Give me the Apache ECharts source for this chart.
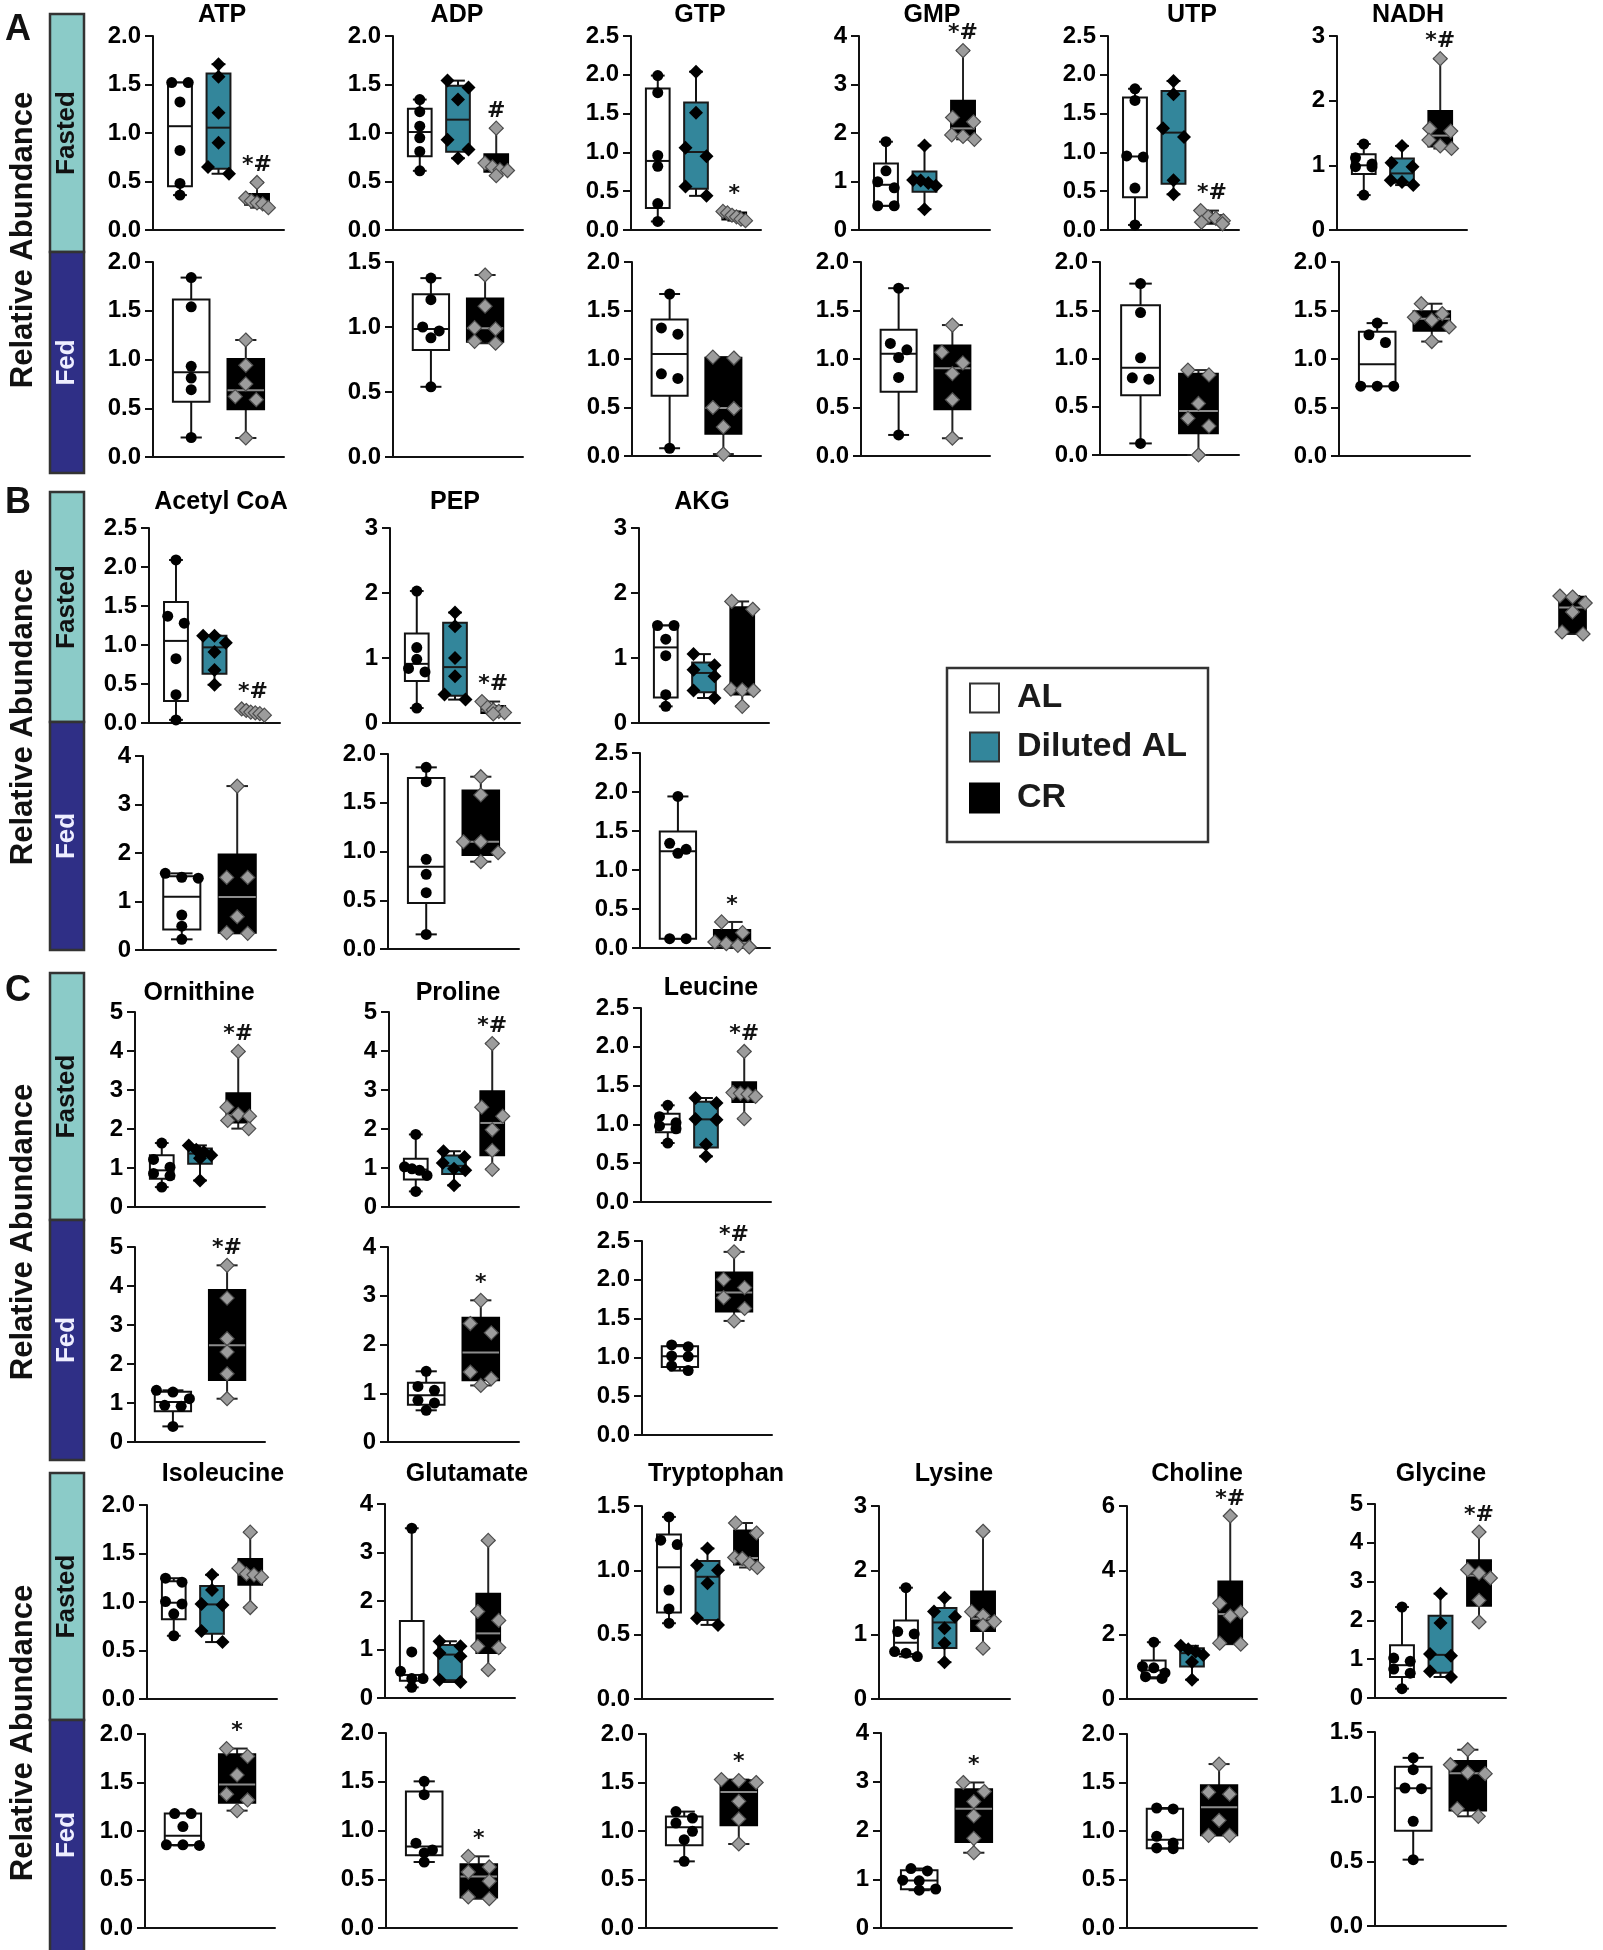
<!DOCTYPE html>
<html>
<head>
<meta charset="utf-8">
<script src="https://cdn.jsdelivr.net/npm/echarts@6/dist/echarts.min.js"></script>
<style>
  html, body { margin: 0; padding: 0; background: #fff; }
  #chart { width: 1603px; height: 1950px; }
</style>
</head>
<body>
<div id="chart"></div>
<script>
// groups
const fastedGroups = ['AL', 'Diluted AL', 'CR'];
const fedGroups = ['AL', 'CR'];

const metabolites = ['ATP', 'ADP', 'GTP', 'GMP', 'UTP', 'NADH',
  'Acetyl CoA', 'PEP', 'AKG',
  'Ornithine', 'Proline', 'Leucine',
  'Isoleucine', 'Glutamate', 'Tryptophan', 'Lysine', 'Choline', 'Glycine'];

// y axis scales (max, tick step)
const fastedMax  = [2, 2, 2.5, 4, 2.5, 3,  2.5, 3, 3,  5, 5, 2.5,  2, 4, 1.5, 3, 6, 5];
const fastedStep = [0.5, 0.5, 0.5, 1, 0.5, 1,  0.5, 1, 1,  1, 1, 0.5,  0.5, 1, 0.5, 1, 2, 1];
const fedMax     = [2, 1.5, 2, 2, 2, 2,  4, 2, 2.5,  5, 4, 2.5,  2, 2, 2, 4, 2, 1.5];
const fedStep    = [0.5, 0.5, 0.5, 0.5, 0.5, 0.5,  1, 0.5, 0.5,  1, 1, 0.5,  0.5, 0.5, 0.5, 1, 0.5, 0.5];

// significance marks on the CR group
const fastedMarks = ['*#', '#', '*', '*#', '*#', '*#',  '*#', '*#', '',  '*#', '*#', '*#',  '', '', '', '', '*#', '*#'];
const fedMarks    = ['', '', '', '', '', '',  '', '', '*',  '*#', '*', '*#',  '*', '*', '*', '*', '', ''];

// individual animals: fasted [AL, Diluted AL, CR], fed [AL, CR]
const atpFasted = [[1.52, 1.52, 1.32, 0.82, 0.48, 0.36], [1.71, 1.58, 1.21, 0.90, 0.65, 0.58], [0.49, 0.33, 0.30, 0.28, 0.27, 0.23]];
const atpFed = [[1.84, 1.54, 0.93, 0.81, 0.69, 0.20], [1.20, 0.94, 0.75, 0.62, 0.588, 0.195]];
const adpFasted = [[1.345, 1.22, 1.07, 0.95, 0.81, 0.61], [1.54, 1.47, 1.345, 0.93, 0.83, 0.74], [1.05, 0.69, 0.65, 0.62, 0.613, 0.56]];
const adpFed = [[1.376, 1.21, 1.0, 0.97, 0.917, 0.54], [1.40, 1.16, 0.995, 0.985, 0.89, 0.875]];
const gtpFasted = [[1.99, 1.77, 0.96, 0.82, 0.34, 0.11], [2.04, 1.51, 1.06, 0.95, 0.56, 0.44], [0.24, 0.22, 0.19, 0.17, 0.14, 0.12]];
const gtpFed = [[1.67, 1.32, 1.256, 0.847, 0.80, 0.08], [1.02, 1.01, 0.50, 0.49, 0.30, 0.02]];
const gmpFasted = [[1.82, 1.22, 0.995, 0.87, 0.50, 0.50], [1.74, 1.03, 1.02, 0.97, 0.91, 0.43], [3.70, 2.32, 2.23, 1.96, 1.93, 1.87]];
const gmpFed = [[1.73, 1.16, 1.095, 1.015, 0.81, 0.217], [1.35, 1.07, 0.96, 0.85, 0.58, 0.183]];
const utpFasted = [[1.82, 1.67, 0.955, 0.94, 0.54, 0.065], [1.92, 1.75, 1.31, 1.20, 0.64, 0.46], [0.25, 0.17, 0.15, 0.12, 0.10, 0.08]];
const utpFed = [[1.776, 1.476, 1.007, 0.80, 0.786, 0.12], [0.88, 0.83, 0.534, 0.38, 0.30, 0.0]];
const nadhFasted = [[1.33, 1.117, 1.02, 0.98, 0.975, 0.54], [1.30, 1.04, 0.98, 0.77, 0.742, 0.695], [2.65, 1.57, 1.53, 1.39, 1.30, 1.26]];
const nadhFed = [[1.37, 1.25, 1.17, 0.72, 0.72, 0.72], [1.57, 1.467, 1.43, 1.40, 1.33, 1.18]];
const acetylFasted = [[2.09, 1.37, 1.28, 0.825, 0.363, 0.04], [1.12, 1.12, 1.03, 0.91, 0.68, 0.49], [0.18, 0.16, 0.14, 0.13, 0.12, 0.10]];
const acetylFed = [[1.58, 1.50, 1.48, 0.72, 0.49, 0.22], [3.38, 1.496, 1.496, 0.686, 0.357, 0.343]];
const pepFasted = [[2.03, 1.16, 0.98, 0.84, 0.785, 0.23], [1.70, 1.49, 1.0, 0.72, 0.44, 0.36], [0.33, 0.24, 0.20, 0.18, 0.16, 0.14]];
const pepFed = [[1.863, 1.716, 0.92, 0.766, 0.578, 0.15], [1.767, 1.58, 1.10, 1.10, 0.988, 0.896]];
const akgFasted = [[1.50, 1.50, 1.29, 1.036, 0.436, 0.256], [1.06, 0.89, 0.82, 0.72, 0.50, 0.385], [1.87, 1.75, 0.52, 0.51, 0.50, 0.256]];
const akgFed = [[1.943, 1.342, 1.265, 1.214, 0.12, 0.12], [0.334, 0.197, 0.077, 0.056, 0.034, 0.013]];
const ornithineFasted = [[1.64, 1.22, 1.02, 0.86, 0.80, 0.51], [1.58, 1.47, 1.41, 1.33, 1.25, 0.68], [3.99, 2.56, 2.376, 2.33, 2.22, 2.01]];
const ornithineFed = [[1.325, 1.28, 1.11, 0.94, 0.915, 0.40], [4.53, 3.69, 2.65, 2.31, 1.75, 1.11]];
const prolineFasted = [[1.86, 1.03, 0.98, 0.94, 0.81, 0.40], [1.43, 1.28, 1.13, 0.98, 0.94, 0.555], [4.19, 2.56, 2.33, 1.98, 1.45, 0.966]];
const prolineFed = [[1.45, 1.14, 1.06, 0.855, 0.80, 0.65], [2.906, 2.43, 2.24, 1.436, 1.30, 1.16]];
const leucineFasted = [[1.246, 1.10, 1.02, 0.98, 0.944, 0.76], [1.34, 1.276, 1.07, 1.06, 0.74, 0.588], [1.94, 1.41, 1.40, 1.39, 1.36, 1.074]];
const leucineFed = [[1.16, 1.138, 1.018, 1.01, 0.89, 0.83], [2.36, 2.006, 1.90, 1.77, 1.63, 1.47]];
const isoleucineFasted = [[1.245, 1.204, 1.005, 0.98, 0.878, 0.652], [1.28, 1.125, 0.98, 0.97, 0.70, 0.587], [1.72, 1.35, 1.29, 1.28, 1.256, 0.943]];
const isoleucineFed = [[1.18, 1.18, 1.046, 0.858, 0.858, 0.851], [1.85, 1.77, 1.578, 1.38, 1.32, 1.21]];
const glutamateFasted = [[3.50, 0.95, 0.55, 0.40, 0.40, 0.22], [1.17, 1.065, 0.93, 0.86, 0.378, 0.33], [3.25, 1.784, 1.60, 1.065, 1.04, 0.584]];
const glutamateFed = [[1.504, 1.367, 0.87, 0.80, 0.77, 0.677], [0.735, 0.626, 0.574, 0.48, 0.318, 0.30]];
const tryptophanFasted = [[1.415, 1.234, 1.20, 0.847, 0.70, 0.589], [1.17, 1.04, 1.0, 0.90, 0.627, 0.576], [1.368, 1.29, 1.10, 1.092, 1.053, 1.022]];
const tryptophanFed = [[1.20, 1.134, 1.082, 0.997, 0.91, 0.687], [1.53, 1.52, 1.50, 1.306, 1.124, 0.866]];
const lysineFasted = [[1.73, 1.048, 1.012, 0.738, 0.712, 0.66], [1.575, 1.36, 1.28, 1.10, 0.867, 0.573], [2.607, 1.358, 1.296, 1.203, 1.147, 0.79]];
const lysineFed = [[1.22, 1.17, 0.98, 0.967, 0.80, 0.775], [2.985, 2.80, 2.593, 2.30, 1.84, 1.544]];
const cholineFasted = [[1.766, 1.01, 0.97, 0.81, 0.693, 0.64], [1.653, 1.55, 1.48, 1.37, 1.15, 0.60], [5.69, 2.975, 2.70, 2.58, 1.736, 1.705]];
const cholineFed = [[1.237, 1.227, 0.945, 0.876, 0.825, 0.818], [1.69, 1.40, 1.38, 1.11, 0.955, 0.955]];
const glycineFasted = [[2.345, 1.03, 0.945, 0.747, 0.64, 0.24], [2.69, 1.933, 1.134, 1.09, 0.687, 0.541], [4.278, 3.307, 3.22, 3.093, 2.517, 1.959]];
const glycineFed = [[1.30, 1.209, 1.067, 1.062, 0.81, 0.513], [1.363, 1.247, 1.186, 1.178, 0.907, 0.848]];
// the cut-off CR box at the right edge
const strayValues = [1.44, 1.43, 1.37, 1.28, 1.08, 1.06];

const fastedData = [atpFasted, adpFasted, gtpFasted, gmpFasted, utpFasted, nadhFasted,
  acetylFasted, pepFasted, akgFasted, ornithineFasted, prolineFasted, leucineFasted,
  isoleucineFasted, glutamateFasted, tryptophanFasted, lysineFasted, cholineFasted, glycineFasted];
const fedData = [atpFed, adpFed, gtpFed, gmpFed, utpFed, nadhFed,
  acetylFed, pepFed, akgFed, ornithineFed, prolineFed, leucineFed,
  isoleucineFed, glutamateFed, tryptophanFed, lysineFed, cholineFed, glycineFed];

// ---- layout (pixels): [axisLeft, axisRight, topTick, zero]
const fastedBox = [
  [153, 284, 36, 230], [393, 523, 36, 230], [631, 761, 36, 230], [859, 990, 36, 230], [1108, 1239, 36, 230], [1337, 1467, 36, 230],
  [149, 280, 528, 723], [390, 520, 528, 723], [639, 769, 528, 723],
  [135, 265, 1012, 1207], [389, 519, 1012, 1207], [641, 771, 1008, 1202],
  [147, 277, 1505, 1699], [385, 515, 1504, 1698], [642, 773, 1506, 1699], [879, 1010, 1506, 1699], [1127, 1257, 1506, 1699], [1375, 1506, 1504, 1698]
];
const fedBox = [
  [153, 284, 262, 457], [393, 523, 262, 457], [632, 761, 262, 456], [861, 990, 262, 456], [1100, 1239, 262, 455], [1339, 1470, 262, 456],
  [143, 276, 756, 950], [388, 519, 754, 949], [640, 770, 753, 948],
  [135, 265, 1247, 1442], [388, 519, 1247, 1442], [642, 772, 1241, 1435],
  [145, 275, 1734, 1928], [386, 517, 1733, 1928], [646, 777, 1734, 1928], [881, 1012, 1733, 1928], [1127, 1257, 1734, 1928], [1375, 1506, 1732, 1926]
];
const titlePos = [
  [222, 15], [457, 15], [700, 15], [932, 15], [1192, 15], [1408, 15],
  [221, 502], [455, 502], [702, 502],
  [199, 993], [458, 993], [711, 988],
  [223, 1474], [467, 1474], [716, 1474], [954, 1474], [1197, 1474], [1441, 1474]
];
const sections = [[14, 252, 473], [492, 722, 950], [973, 1220, 1460], [1473, 1720, 1955]];
const sectionLabelY = [240, 717, 1232, 1733];
const letters = [['A', 18, 30], ['B', 18, 503], ['C', 18, 991]];

const FONT = '"Liberation Sans", Arial, sans-serif';
const styles = {
  'AL':         { fill: '#ffffff', stroke: '#111', median: '#111', whisker: '#111', shape: 'circle',  pFill: '#000', pStroke: null },
  'Diluted AL': { fill: '#33869b', stroke: '#1a1a1a', median: '#1a1a1a', whisker: '#111', shape: 'diamond', pFill: '#000', pStroke: null },
  'CR':         { fill: '#000000', stroke: '#000', median: '#8c8c8c', whisker: '#222', shape: 'diamond', pFill: '#9c9c9c', pStroke: '#4d4d4d' }
};

// GraphPad style quartiles, rank (n+1)p
function quant(s, p) {
  const h = (s.length + 1) * p;
  const lo = Math.floor(h), f = h - lo;
  if (lo < 1) return s[0];
  if (lo >= s.length) return s[s.length - 1];
  return s[lo - 1] + f * (s[lo] - s[lo - 1]);
}

function symbol(st, px, py, size) {
  const h = size / 2;
  if (st.shape === 'circle') {
    return { type: 'circle', shape: { cx: px, cy: py, r: h }, style: { fill: st.pFill } };
  }
  return {
    type: 'polygon',
    shape: { points: [[px, py - h], [px + h, py], [px, py + h], [px - h, py]] },
    style: { fill: st.pFill, stroke: st.pStroke, lineWidth: st.pStroke ? 1.2 : 0 }
  };
}

function renderGroup(api, type, half, mark) {
  const st = styles[type];
  const x = api.value(0);
  const vals = [1, 2, 3, 4, 5, 6].map(i => api.value(i)).sort((a, b) => a - b);
  const q1 = quant(vals, 0.25), med = quant(vals, 0.5), q3 = quant(vals, 0.75);
  const lo = vals[0], hi = vals[vals.length - 1];
  const pL = api.coord([x - half, q3]);
  const pR = api.coord([x + half, q1]);
  const cx = api.coord([x, 0])[0];
  const bw = pR[0] - pL[0];
  const yHi = api.coord([x, hi])[1], yLo = api.coord([x, lo])[1];
  const yMed = api.coord([x, med])[1];
  const cap = bw * 0.29;
  const line = (x1, y1, x2, y2, c) => ({ type: 'line', shape: { x1, y1, x2, y2 }, style: { stroke: c, lineWidth: 2 } });
  const children = [
    line(cx, yHi, cx, pL[1], st.whisker),
    line(cx, pR[1], cx, yLo, st.whisker),
    line(cx - cap, yHi, cx + cap, yHi, st.whisker),
    line(cx - cap, yLo, cx + cap, yLo, st.whisker),
    { type: 'rect', shape: { x: pL[0], y: pL[1], width: bw, height: Math.max(pR[1] - pL[1], 1) },
      style: { fill: st.fill, stroke: st.stroke, lineWidth: 2 } },
    line(pL[0], yMed, pR[0], yMed, st.median)
  ];
  // points, spread sideways where they overlap
  const size = st.shape === 'circle' ? 11 : 14;
  const ys = vals.map(v => api.coord([x, v])[1]).sort((a, b) => a - b);
  const clusters = [];
  ys.forEach(py => {
    const c = clusters[clusters.length - 1];
    if (c && py - c[0] < size * 0.8) c.push(py); else clusters.push([py]);
  });
  clusters.forEach(c => {
    const m = c.length;
    const sp = m > 1 ? Math.min(size * 1.5, bw * 0.95 / (m - 1)) : 0;
    c.forEach((py, k) => children.push(symbol(st, cx + (k - (m - 1) / 2) * sp, py, size)));
  });
  if (mark) {
    children.push({ type: 'text', x: cx, y: yHi - 17,
      style: { text: mark, font: 'bold 22px "DejaVu Sans"', fill: '#111', align: 'center', verticalAlign: 'middle' } });
  }
  return { type: 'group', children };
}

const grids = [], xAxes = [], yAxes = [], series = [];

function addPanel(box, max, step, groupVals, groupNames, mark) {
  const idx = grids.length;
  const n = groupNames.length;
  const half = n === 3 ? 0.31 : 0.335;
  grids.push({ left: box[0], top: box[2], width: box[1] - box[0], height: box[3] - box[2] });
  xAxes.push({
    gridIndex: idx, type: 'value', min: 0.3, max: n + 0.7,
    axisLine: { show: true, onZero: false, lineStyle: { color: '#111', width: 2 } },
    axisTick: { show: false }, axisLabel: { show: false }, splitLine: { show: false }
  });
  yAxes.push({
    gridIndex: idx, type: 'value', min: 0, max: max, interval: step,
    axisLine: { show: true, onZero: false, lineStyle: { color: '#111', width: 2 } },
    axisTick: { show: true, length: 8, lineStyle: { color: '#111', width: 2 } },
    axisLabel: {
      fontFamily: FONT, fontWeight: 'bold', fontSize: 24, color: '#000', margin: 12,
      formatter: v => (step < 1 ? v.toFixed(1) : String(v))
    },
    splitLine: { show: false }
  });
  series.push({
    type: 'custom', xAxisIndex: idx, yAxisIndex: idx, silent: true, clip: false,
    encode: { x: 0, y: 1 },
    data: groupVals.map((vals, gi) => [gi + 1].concat(vals)),
    renderItem: (params, api) => {
      const gi = params.dataIndex;
      const name = groupNames[gi];
      return renderGroup(api, name, half, name === 'CR' ? mark : '');
    }
  });
}

metabolites.forEach((m, i) => {
  addPanel(fastedBox[i], fastedMax[i], fastedStep[i], fastedData[i], fastedGroups, fastedMarks[i]);
  addPanel(fedBox[i], fedMax[i], fedStep[i], fedData[i], fedGroups, fedMarks[i]);
});

// partial box at the right page edge
(function () {
  const idx = grids.length;
  grids.push({ left: 1545, top: 540, width: 80, height: 200 });
  xAxes.push({ gridIndex: idx, type: 'value', min: 0, max: 2, show: false });
  yAxes.push({ gridIndex: idx, type: 'value', min: 0, max: 2, show: false });
  series.push({
    type: 'custom', xAxisIndex: idx, yAxisIndex: idx, silent: true, clip: false,
    encode: { x: 0, y: 1 },
    data: [[0.95].concat(strayValues)],
    renderItem: (params, api) => renderGroup(api, 'CR', 0.46, '')
  });
})();

const graphic = [];
sections.forEach((s, i) => {
  graphic.push({ type: 'rect', shape: { x: 50, y: s[0], width: 34, height: s[1] - s[0] },
    style: { fill: '#8bcbc8', stroke: '#333', lineWidth: 2.5 } });
  graphic.push({ type: 'rect', shape: { x: 50, y: s[1], width: 34, height: s[2] - s[1] },
    style: { fill: '#2f2f86', stroke: '#333', lineWidth: 2.5 } });
  graphic.push({ type: 'text', x: 67, y: (s[0] + s[1]) / 2, rotation: Math.PI / 2,
    style: { text: 'Fasted', font: 'bold 26px ' + FONT, fill: '#111', align: 'center', verticalAlign: 'middle' } });
  graphic.push({ type: 'text', x: 67, y: (s[1] + Math.min(s[2], 1950)) / 2, rotation: Math.PI / 2,
    style: { text: 'Fed', font: 'bold 26px ' + FONT, fill: '#eeeeff', align: 'center', verticalAlign: 'middle' } });
  graphic.push({ type: 'text', x: 23, y: sectionLabelY[i], rotation: Math.PI / 2,
    style: { text: 'Relative Abundance', font: 'bold 31px ' + FONT, fill: '#111', align: 'center', verticalAlign: 'middle' } });
});
letters.forEach(l => {
  graphic.push({ type: 'text', x: l[1], y: l[2],
    style: { text: l[0], font: 'bold 36px ' + FONT, fill: '#111', align: 'center', verticalAlign: 'middle' } });
});
metabolites.forEach((m, i) => {
  graphic.push({ type: 'text', x: titlePos[i][0], y: titlePos[i][1],
    style: { text: m, font: 'bold 25px ' + FONT, fill: '#000', align: 'center', verticalAlign: 'middle' } });
});

// legend box
graphic.push({ type: 'rect', shape: { x: 947, y: 668, width: 261, height: 174 },
  style: { fill: '#fff', stroke: '#333', lineWidth: 2.5 } });
const legendRowsY = [698, 747, 798];
fastedGroups.forEach((g, i) => {
  const st = styles[g];
  graphic.push({ type: 'rect', shape: { x: 970, y: legendRowsY[i] - 14.5, width: 29, height: 29 },
    style: { fill: st.fill, stroke: g === 'CR' ? '#000' : '#333', lineWidth: 2 } });
  graphic.push({ type: 'text', x: 1017, y: legendRowsY[i],
    style: { text: g, font: 'bold 34px ' + FONT, fill: '#1a1a1a', align: 'left', verticalAlign: 'middle' } });
});

const chart = echarts.init(document.getElementById('chart'), null, { renderer: 'canvas' });
chart.setOption({
  animation: false,
  backgroundColor: '#ffffff',
  grid: grids,
  xAxis: xAxes,
  yAxis: yAxes,
  series: series,
  graphic: graphic
});
</script>
</body>
</html>
